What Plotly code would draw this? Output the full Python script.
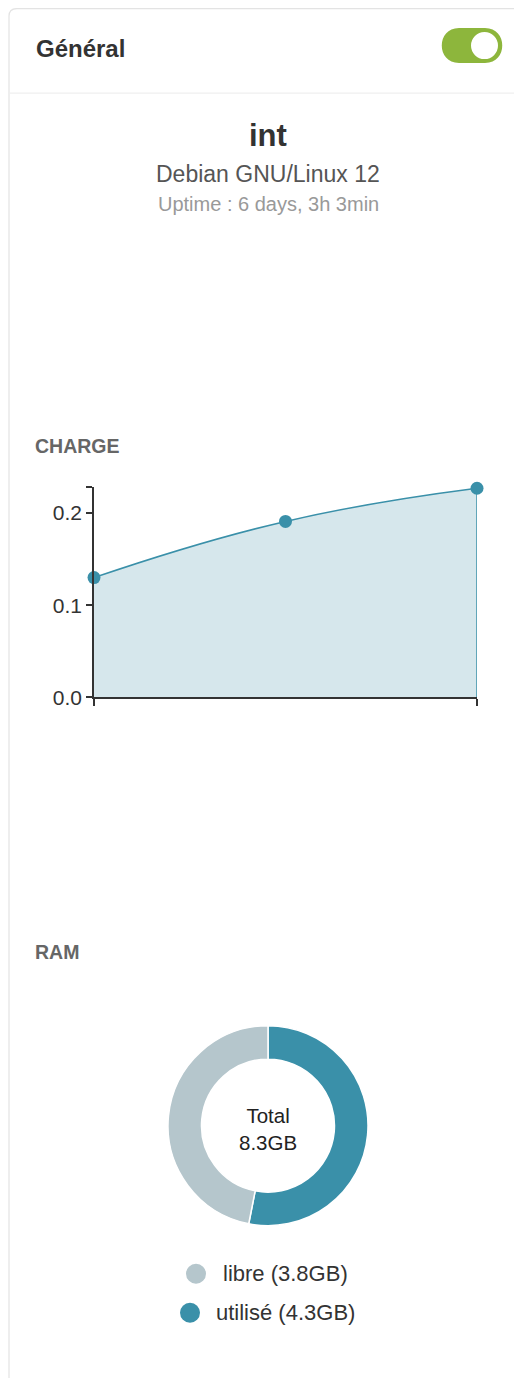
import plotly.graph_objects as go

W, H = 522, 1381
OFF = 8                      # page body margin
KY = 1.0086                  # vertical compensation of the photographed page
FW, FH = W - 2 * OFF, 1370

# ---- data ----
load_x = [0, 1, 2]
load_y = [0.130, 0.191, 0.227]
y_ticks = [0.0, 0.1, 0.2]
y_tick_labels = ["0.0", "0.1", "0.2"]

ram_labels = ["libre", "utilisé"]
ram_values = [3.8, 4.3]
ram_colors = ["#b5c6cc", "#3a90a9"]
ram_total = "8.3GB"

host = "int"
os_name = "Debian GNU/Linux 12"
uptime = "Uptime : 6 days, 3h 3min"


def px(x):
    return (x - OFF) / FW


def py(y):
    return 1 - (y * KY - OFF) / FH


FONT = "Liberation Sans, Arial, sans-serif"
TEAL = "#3a90a9"

fig = go.Figure()

# area chart
ymax = max(load_y) + 0.001
fig.add_trace(go.Scatter(
    x=load_x, y=load_y, mode="lines+markers",
    line=dict(color=TEAL, width=1.5, shape="spline", smoothing=1.3),
    marker=dict(color=TEAL, size=13),
    fill="tozeroy", fillcolor="#d6e7ec",
    cliponaxis=False, showlegend=False, hoverinfo="skip",
    xaxis="x", yaxis="y"))
# closing edge of the area on the right
fig.add_trace(go.Scatter(
    x=[load_x[-1], load_x[-1]], y=[0, load_y[-1]], mode="lines",
    line=dict(color=TEAL, width=1.5), showlegend=False, hoverinfo="skip",
    cliponaxis=False, xaxis="x", yaxis="y"))

# donut (utilisé first, clockwise from top)
order = [1, 0]
fig.add_trace(go.Pie(
    labels=[ram_labels[i] for i in order],
    values=[ram_values[i] for i in order],
    marker=dict(colors=[ram_colors[i] for i in order], line=dict(color="white", width=1.5)),
    hole=0.665, sort=False, direction="clockwise", rotation=0,
    textinfo="none", hoverinfo="skip", showlegend=False,
    domain=dict(x=[px(168), px(368)], y=[py(1225), py(1025)])))

shapes = []
annotations = []

# card outline
shapes.append(dict(type="path", xref="paper", yref="paper",
                   path=f"M {px(540)},{py(8.5)} L {px(17)},{py(8.5)} Q {px(9)},{py(8.5)} {px(9)},{py(16)} L {px(9)},{py(1420)}",
                   line=dict(color="#e3e3e3", width=1.2)))
shapes.append(dict(type="line", xref="paper", yref="paper",
                   x0=px(10), x1=px(530), y0=py(93), y1=py(93),
                   line=dict(color="#efefef", width=1.2)))

# toggle
shapes.append(dict(type="path", xref="paper", yref="paper",
                   path=(f"M {px(459)},{py(28)} L {px(485)},{py(28)} "
                         f"C {px(508)},{py(28)} {px(508)},{py(63)} {px(485)},{py(63)} "
                         f"L {px(459)},{py(63)} "
                         f"C {px(436)},{py(63)} {px(436)},{py(28)} {px(459)},{py(28)} Z"),
                   fillcolor="#8db63c", line=dict(width=0)))
shapes.append(dict(type="circle", xref="paper", yref="paper",
                   x0=px(471), x1=px(498), y0=py(59), y1=py(32),
                   fillcolor="white", line=dict(width=0)))


def txt(s, x, y, size, color, anchor="left"):
    annotations.append(dict(text=s, x=px(x), y=py(y), xref="paper", yref="paper",
                            xanchor=anchor, yanchor="middle", showarrow=False,
                            font=dict(family=FONT, size=size, color=color)))


txt("<b>Général</b>", 34, 48, 24, "#333")
txt(f"<b>{host}</b>", 268, 135, 31, "#333", "center")
txt(os_name, 268, 174, 23, "#555", "center")
txt(uptime, 268, 204, 20, "#999", "center")
txt("<b>CHARGE</b>", 33, 446, 19.5, "#666")
txt("<b>RAM</b>", 33, 951, 19.5, "#666")
txt(f"Total<br>{ram_total}", 268, 1128, 20.5, "#222", "center")

# legend (libre, utilisé)
leg_pos = [(196, 221, 1273), (190, 214, 1312)]
for (cx, tx, cy), lab, val, col in zip(leg_pos, ram_labels, ram_values, ram_colors):
    shapes.append(dict(type="circle", xref="paper", yref="paper",
                       x0=px(cx - 10), x1=px(cx + 10), y0=py(cy + 10), y1=py(cy - 10),
                       fillcolor=col, line=dict(width=0)))
    txt(f"{lab} ({val}GB)", tx, cy, 22, "#333")

fig.update_layout(
    width=FW, height=FH, margin=dict(l=0, r=0, t=0, b=0),
    paper_bgcolor="white", plot_bgcolor="rgba(0,0,0,0)",
    xaxis=dict(domain=[px(94), px(477)], range=[load_x[0], load_x[-1]],
               showgrid=False, zeroline=False, showline=True, linecolor="#333", linewidth=1.5,
               tickvals=[load_x[0], load_x[-1]], ticktext=["", ""], ticks="outside",
               ticklen=7, tickwidth=1.5, tickcolor="#333", fixedrange=True),
    yaxis=dict(domain=[py(697), py(487)], range=[0, ymax],
               showgrid=False, zeroline=False, showline=True, linecolor="#333", linewidth=1.5,
               tickvals=y_ticks + [ymax], ticktext=y_tick_labels + [""], ticks="outside",
               ticklen=6, tickwidth=1.5, tickcolor="#333",
               tickfont=dict(family=FONT, size=21, color="#333"), fixedrange=True),
    shapes=shapes, annotations=annotations,
)

fig.write_html("out.html")
